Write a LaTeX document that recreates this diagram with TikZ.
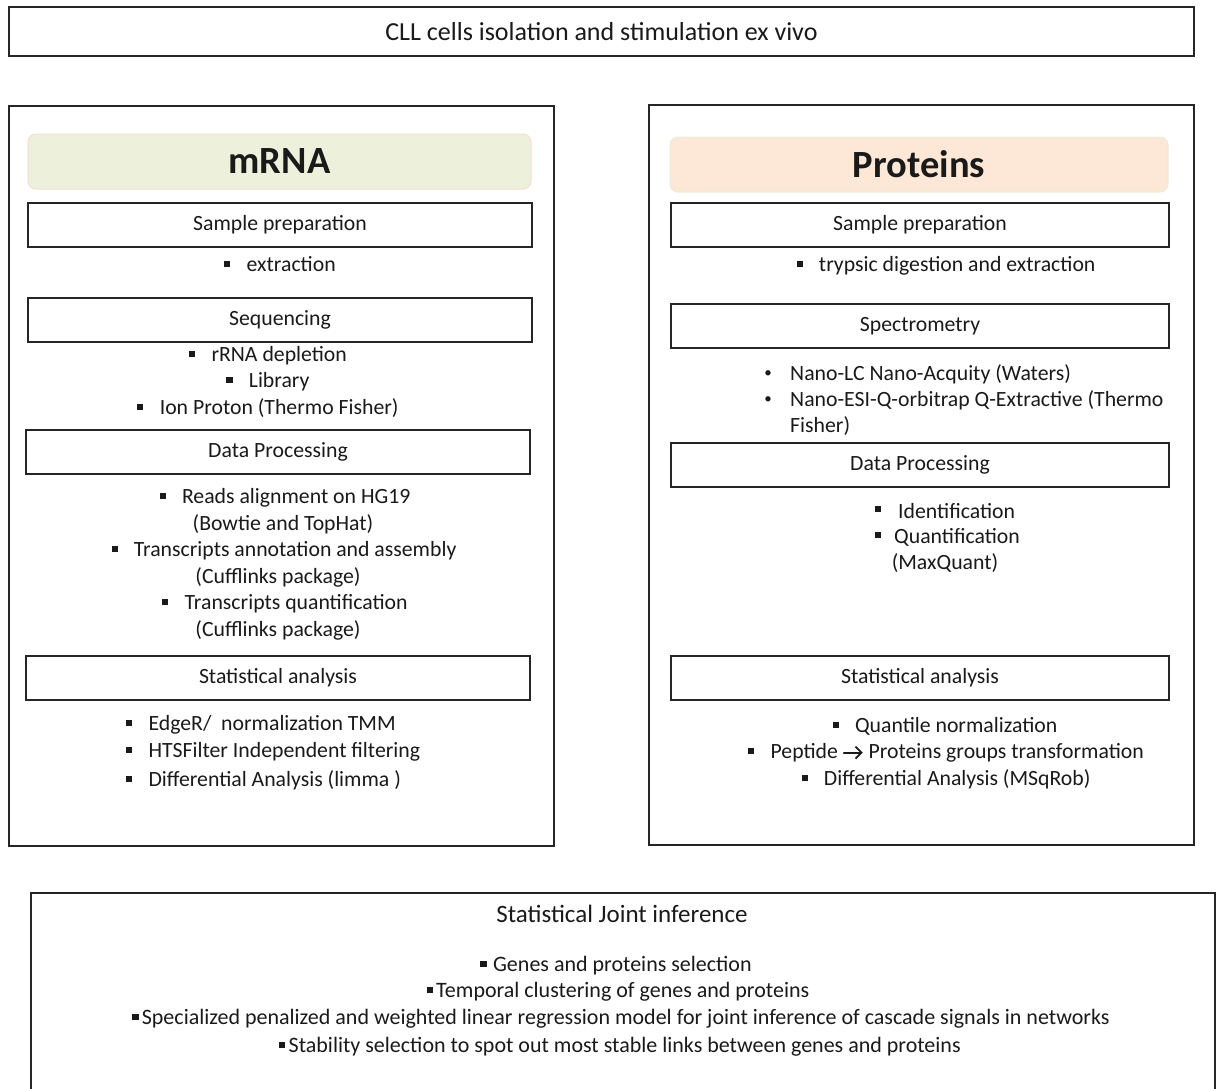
\documentclass[tikz,border=0pt]{standalone}
\usepackage{fontspec}
\usetikzlibrary{arrows.meta}
\setmainfont{Carlito}
\definecolor{boxc}{HTML}{262626}
\definecolor{txtc}{HTML}{1A1A1A}
\definecolor{mrnafill}{HTML}{EDF1DC}
\definecolor{mrnaline}{HTML}{F9DCD0}
\definecolor{protfill}{HTML}{FDE7D6}
\definecolor{protline}{HTML}{E6EFD8}
\newcommand\sqb{\rule[0.2em]{0.28em}{0.28em}}
\newcommand\rb{{\fontsize{15}{15}\selectfont\textbullet}}
\newcommand\chevarrow{\tikz[baseline={(0pt,-6pt)}, x=1pt, y=1pt]\draw[txtc, line width=1.8pt, line cap=round, -{Straight Barb[length=6pt,width=12pt,line width=1.8pt]}] (0pt,0pt) -- (19pt,0pt);}
\begin{document}
\begin{tikzpicture}[x=1pt,y=-1pt,
  bigbox/.style={draw=boxc, line width=2pt, inner sep=0},
  secbox/.style={draw=boxc, line width=1.5pt, inner sep=0, minimum height=44pt, font=\fontsize{21.75}{24}\selectfont, text=txtc},
  headbox/.style={rounded corners=8pt, line width=1pt, inner sep=0, minimum height=55pt, font=\fontsize{38.5}{40}\selectfont\bfseries, text=txtc},
  txt/.style={inner sep=0, font=\fontsize{21.75}{24}\selectfont, text=txtc},
  ltxt/.style={txt, anchor=west},
  jtxt/.style={inner sep=0, font=\fontsize{22}{24}\selectfont, text=txtc}
]
\useasboundingbox (0,0) rectangle (1220,1088);
\fill[white] (0,0) rectangle (1220,1088);

% top box
\node[bigbox, line width=1.5pt, minimum width=1185pt, minimum height=49pt, font=\fontsize{26}{28}\selectfont, text=txtc] (top) at (601.5,31.5) {CLL cells isolation and stimulation ex vivo};

% big boxes
\node[bigbox, minimum width=545pt, minimum height=740pt] (left) at (281.5,476) {};
\node[bigbox, minimum width=545pt, minimum height=740pt] (right) at (921.5,475) {};

% mRNA column
\node[headbox, fill=mrnafill, draw=mrnaline, minimum width=503pt] (mrna) at (279.5,161.5) {mRNA};
\node[secbox, minimum width=504pt] (lsp) at (280,225) {Sample preparation};
\node[txt] (lsp1) at (280,264) {\sqb\hspace{0.75em}extraction};
\node[secbox, minimum width=504pt] (lseq) at (280,320) {Sequencing};
\node[txt] (lseq1) at (268,356) {\sqb\hspace{0.75em}rRNA depletion};
\node[txt] (lseq2) at (268,382) {\sqb\hspace{0.75em}Library};
\node[txt] (lseq3) at (268,408) {\sqb\hspace{0.75em}Ion Proton (Thermo Fisher)};
\node[secbox, minimum width=504pt] (ldp) at (278,452) {Data Processing};
\node[txt] (ldp1) at (285,498) {\sqb\hspace{0.75em}Reads alignment on HG19};
\node[txt] (ldp2) at (283,524) {(Bowtie and TopHat)};
\node[txt] (ldp3) at (284,551) {\sqb\hspace{0.75em}Transcripts annotation and assembly};
\node[txt] (ldp4) at (278,577) {(Cufflinks package)};
\node[txt] (ldp5) at (285,604) {\sqb\hspace{0.75em}Transcripts quantification};
\node[txt] (ldp6) at (278,630) {(Cufflinks package)};
\node[secbox, minimum width=504pt] (lsa) at (278,678) {Statistical analysis};
\node[ltxt] (lsa1) at (126,725) {\sqb\hspace{0.75em}EdgeR/\ \ normalization TMM};
\node[ltxt] (lsa2) at (126,752) {\sqb\hspace{0.75em}HTSFilter Independent filtering};
\node[ltxt] (lsa3) at (126,780) {\sqb\hspace{0.75em}Differential Analysis (limma )};

% Proteins column
\node[headbox, fill=protfill, draw=protline, minimum width=498pt] (prot) at (919,164.5) {Proteins};
\node[secbox, minimum width=498pt] (rsp) at (920,225) {Sample preparation};
\node[txt] (rsp1) at (946,266) {\sqb\hspace{0.75em}trypsic digestion and extraction};
\node[secbox, minimum width=498pt] (rspec) at (920,326) {Spectrometry};
\node[txt] (rb1) at (768,374) {\rb};
\node[ltxt] (rspec1) at (790,374) {Nano-LC Nano-Acquity (Waters)};
\node[txt] (rb2) at (768,400) {\rb};
\node[ltxt] (rspec2) at (790,400) {Nano-ESI-Q-orbitrap Q-Extractive (Thermo};
\node[ltxt] (rspec3) at (790,426) {Fisher)};
\node[secbox, minimum width=498pt] (rdp) at (920,465) {Data Processing};
\node[txt] (rq1) at (878,511) {\sqb};
\node[ltxt] (rdp1) at (898,511) {Identification};
\node[txt] (rq2) at (878,537) {\sqb};
\node[ltxt] (rdp2) at (894,537) {Quantification};
\node[txt] (rdp3) at (945,563) {(MaxQuant)};
\node[secbox, minimum width=498pt] (rsa) at (920,678) {Statistical analysis};
\node[txt] (rsa1) at (945,726) {\sqb\hspace{0.75em}Quantile normalization};
\node[txt] (rsa2) at (946,753) {\sqb\hspace{0.75em}Peptide \chevarrow\ Proteins groups transformation};
\node[txt] (rsa3) at (946,779) {\sqb\hspace{0.75em}Differential Analysis (MSqRob)};

% bottom box (open at the bottom edge)
\draw[draw=boxc, line width=1.5pt] (31,1095) -- (31,893) -- (1215,893) -- (1215,1095);
\node[jtxt, font=\fontsize{25}{26}\selectfont] (joint) at (622,914) {Statistical Joint inference};
\node[jtxt] (j1) at (616,966) {\sqb\hspace{0.3em}Genes and proteins selection};
\node[jtxt] (j2) at (618,992) {\sqb\hspace{0.15em}Temporal clustering of genes and proteins};
\node[jtxt] (j3) at (621,1019) {\sqb\hspace{0.15em}Specialized penalized and weighted linear regression model for joint inference of cascade signals in networks};
\node[jtxt] (j4) at (620,1047) {\sqb\hspace{0.15em}Stability selection to spot out most stable links between genes and proteins};
\end{tikzpicture}
\end{document}
